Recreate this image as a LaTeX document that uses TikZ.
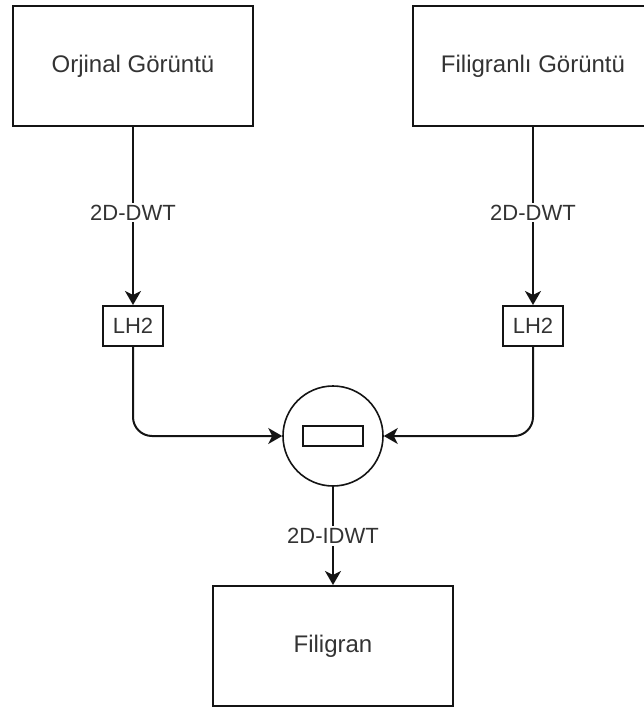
\documentclass[tikz,border=0pt]{standalone}
\usepackage{fontspec}
\setmainfont{Liberation Sans}
\usetikzlibrary{
  arrows.meta,
  positioning
}
\definecolor{inkgray}{RGB}{51,51,51}
\definecolor{edgeblack}{RGB}{20,20,20}

\begin{document}
\begin{tikzpicture}[x=1pt,y=-1pt,
  imgbox/.style={draw=edgeblack,line width=2pt,minimum width=240pt,minimum height=120pt,
    text=inkgray,font=\fontsize{24}{28}\selectfont},
  bandbox/.style={draw=edgeblack,line width=2pt,minimum width=60pt,minimum height=40pt,
    inner sep=0pt,text=inkgray,font=\fontsize{22}{26}\selectfont},
  lbl/.style={fill=white,text=inkgray,inner sep=2pt,font=\fontsize{22}{26}\selectfont},
  conn/.style={edgeblack,line width=2pt,-{Stealth[length=14pt,width=16pt,inset=4pt]}}]
  \useasboundingbox (0,0) rectangle (643,709);
  \node[imgbox] (orig) at (133,66) {Orjinal Görüntü};
  \node[imgbox] (wmimg) at (533,66) {Filigranlı Görüntü};
  \node[bandbox] (lhorig) at (133,326) {LH2};
  \node[bandbox] (lhwm) at (533,326) {LH2};
  \node[draw=edgeblack,circle,line width=1.6pt,minimum size=100pt] (diff) at (333,436) {};
  \node[draw=edgeblack,line width=2pt,minimum width=60pt,minimum height=20pt,inner sep=0pt] (minus) at (diff) {};
  \node[imgbox] (wmark) at (333,646) {Filigran};
  \draw[conn] (orig) -- node[lbl,pos=0.48] {2D-DWT} (lhorig);
  \draw[conn] (wmimg) -- node[lbl,pos=0.48] {2D-DWT} (lhwm);
  \draw[conn,rounded corners=19pt] (lhorig) |- (diff);
  \draw[conn,rounded corners=19pt] (lhwm) |- (diff);
  \draw[conn] (diff) -- node[lbl] {2D-IDWT} (wmark);
\end{tikzpicture}
\end{document}
